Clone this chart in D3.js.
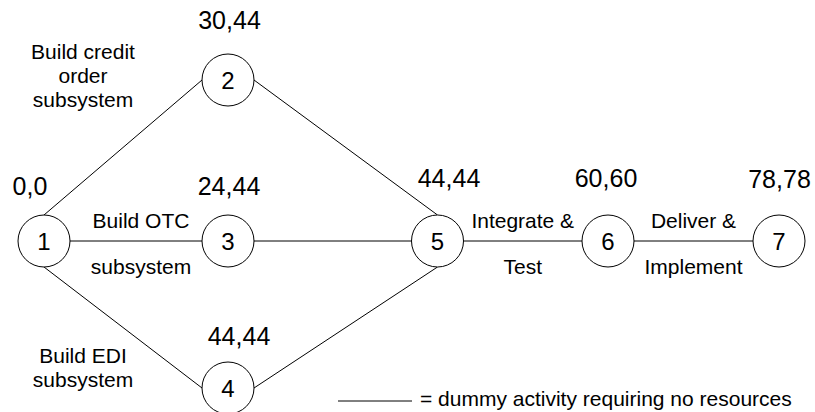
<!DOCTYPE html>
<html>
<head>
<meta charset="utf-8">
<script src="https://cdn.jsdelivr.net/npm/d3@7"></script>
<style>
  body { margin: 0; background: #fff; }
  svg { display: block; font-family: "Liberation Sans", Arial, sans-serif; }
</style>
</head>
<body>
<svg id="SvgNet"></svg>
<script>
// ------ Network data
// nodes: event number, column in the network, row (-1 top, 0 main path, 1 bottom)
var nodeIds  = [1, 2, 3, 4, 5, 6, 7];
var nodeCols = [0, 1, 1, 1, 2, 3, 4];
var nodeRows = [0, -1, 0, 1, 0, 0, 0];
// earliest start, latest start for every event
var nodeTimes = ["0,0", "30,44", "24,44", "44,44", "44,44", "60,60", "78,78"];

// activities (arrows between events)
var edgeFrom = [1, 1, 1, 2, 3, 4, 5, 6];
var edgeTo   = [2, 3, 4, 5, 5, 5, 6, 7];

// activity names, keyed by "from-to"
var activityKeys  = ["1-2", "1-3", "1-4", "5-6", "6-7"];
var activityLines = [
  ["Build credit", "order", "subsystem"],
  ["Build OTC", "subsystem"],
  ["Build EDI", "subsystem"],
  ["Integrate &", "Test"],
  ["Deliver &", "Implement"]
];

var legendText = "= dummy activity requiring no resources";

// ------ Sizes
var width = 815, height = 412, radius = 26;

// column / row -> pixel (network is not evenly spaced)
var xScale = d3.scaleLinear().domain([0, 1, 2, 3, 4]).range([44, 228, 437.5, 608, 779]);
var yScale = d3.scaleLinear().domain([-1, 0, 1]).range([80, 241, 388]);

// small hand placement of the time labels around each node (dx, baseline dy)
var timeOffset = {1: [-14, -46], 2: [1.5, -51], 3: [1, -46], 4: [11, -43], 5: [11.5, -54], 6: [-2, -54], 7: [0.5, -53]};

var nodes = nodeIds.map(function(id, i) {
  return {id: id, x: xScale(nodeCols[i]), y: yScale(nodeRows[i]), row: nodeRows[i], time: nodeTimes[i]};
});
var byId = {};
nodes.forEach(function(d) { byId[d.id] = d; });

var svg = d3.select("#SvgNet").attr("width", width).attr("height", height);

// ------ Edges: main-row nodes leave from top/bottom on diagonals, side nodes use left/right
function port(n, other) {
  if (n.y === other.y) return [n.x + (other.x > n.x ? radius : -radius), n.y];
  if (n.row === 0) return [n.x, n.y + (other.y < n.y ? -radius : radius)];
  return [n.x + (other.x > n.x ? radius : -radius), n.y];
}

var edges = edgeFrom.map(function(f, i) {
  var a = byId[f], b = byId[edgeTo[i]];
  return {key: f + "-" + edgeTo[i], p1: port(a, b), p2: port(b, a), a: a, b: b};
});

svg.append("g").selectAll("line")
  .data(edges)
  .enter().append("line")
    .attr("x1", d => d.p1[0]).attr("y1", d => d.p1[1])
    .attr("x2", d => d.p2[0]).attr("y2", d => d.p2[1])
    .style("stroke", "#000").style("stroke-width", 1);

// ------ Nodes
var gNode = svg.append("g").selectAll("g")
  .data(nodes)
  .enter().append("g")
    .attr("transform", d => "translate(" + d.x + "," + d.y + ")");
gNode.append("circle")
  .attr("r", radius)
  .style("fill", "#fff").style("stroke", "#000").style("stroke-width", 1);
gNode.append("text")
  .attr("text-anchor", "middle")
  .attr("dy", "0.36em")
  .style("font-size", "24px")
  .text(d => d.id);

// time labels
svg.append("g").selectAll("text")
  .data(nodes)
  .enter().append("text")
    .attr("x", d => d.x + timeOffset[d.id][0])
    .attr("y", d => d.y + timeOffset[d.id][1])
    .attr("text-anchor", "middle")
    .style("font-size", "25px")
    .text(d => d.time);

// ------ Activity labels
var lineH = 24;
var acts = activityKeys.map(function(k, i) {
  var e = edges.find(function(d) { return d.key === k; });
  return {edge: e, lines: activityLines[i]};
});

acts.forEach(function(act) {
  var e = act.edge, a = e.a, b = e.b;
  var g = svg.append("g").style("font-size", "21px").attr("text-anchor", "middle");
  if (a.y === b.y) {
    // horizontal: first line above the arrow, second below
    var mx = (e.p1[0] + e.p2[0]) / 2 + (a.id === 1 ? 5 : 0);
    g.append("text").attr("x", mx).attr("y", a.y - 13).text(act.lines[0]);
    g.append("text").attr("x", mx).attr("y", a.y + 33).text(act.lines[1]);
  } else {
    // diagonal: block to the left of the branch
    var cx = a.x + 39;
    var base = b.row < 0 ? b.y - 21 : b.y - 25;
    act.lines.forEach(function(t, j) {
      g.append("text").attr("x", cx).attr("y", base + j * lineH).text(t);
    });
  }
});

// ------ Legend
var legend = svg.append("g");
legend.append("line")
  .attr("x1", 338).attr("x2", 412).attr("y1", 401).attr("y2", 401)
  .style("stroke", "#000").style("stroke-width", 1);
legend.append("text")
  .attr("x", 420).attr("y", 406)
  .style("font-size", "21px")
  .text(legendText);
</script>
</body>
</html>
